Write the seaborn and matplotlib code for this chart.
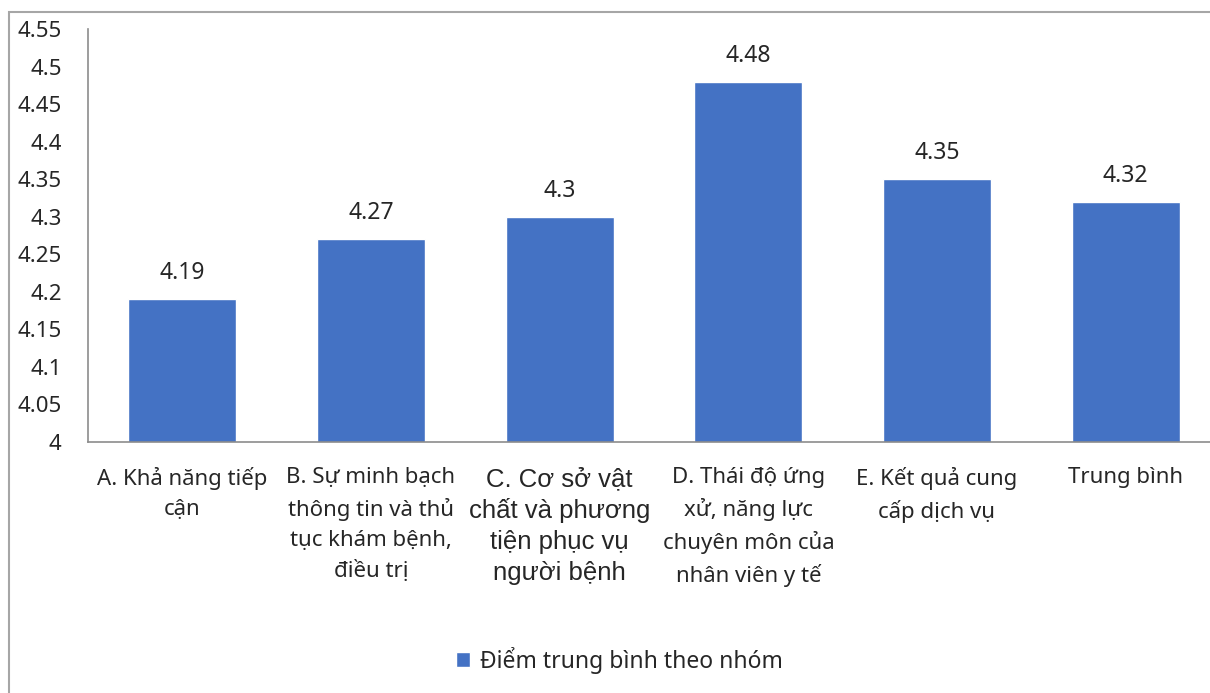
import numpy as np
import pandas as pd
import matplotlib
matplotlib.use("Agg")
import matplotlib.pyplot as plt
import seaborn as sns
from matplotlib.patches import Rectangle

# data
categories = [
    "A. Khả năng tiếp\ncận",
    "B. Sự minh bạch\nthông tin và thủ\ntục khám bệnh,\nđiều trị",
    "C. Cơ sở vật\nchất và phương\ntiện phục vụ\nngười bệnh",
    "D. Thái độ ứng\nxử, năng lực\nchuyên môn của\nnhân viên y tế",
    "E. Kết quả cung\ncấp dịch vụ",
    "Trung bình",
]
scores = [4.19, 4.27, 4.30, 4.48, 4.35, 4.32]
value_labels = ["4.19", "4.27", "4.3", "4.48", "4.35", "4.32"]
series_name = "Điểm trung bình theo nhóm"
yticks = [4.0, 4.05, 4.1, 4.15, 4.2, 4.25, 4.3, 4.35, 4.4, 4.45, 4.5, 4.55]

sns.set_style("white")
plt.rcParams['font.family'] = ['Noto Sans', 'DejaVu Sans']

df = pd.DataFrame({'group': categories, 'score': scores})

W, H = 1210, 693
fig = plt.figure(figsize=(W / 100, H / 100), dpi=100)
ax = fig.add_axes([88 / W, 1 - 441.7 / H, (1220 - 88) / W, 412.7 / H])

sns.barplot(data=df, x='group', y='score', color='#4472C4', width=0.573,
            saturation=1, label=series_name, ax=ax)
handles, labels = ax.get_legend_handles_labels()
if ax.get_legend() is not None:
    ax.get_legend().remove()

ax.set_ylim(4.0, 4.55)
ax.set_yticks(yticks)
ax.set_yticklabels([f"{v:g}" for v in yticks], fontsize=16)
ax.tick_params(axis='y', length=0, pad=19)
ax.tick_params(axis='x', length=0, labelbottom=False)
ax.set_xlabel('')
ax.set_ylabel('')

# category labels (label C is in a larger Arial-like face in the original)
xt = ax.get_xaxis_transform()
for i, name in enumerate(categories):
    if i == 2:
        fam, fs, ls = ['Liberation Sans', 'DejaVu Sans'], 18.5, 1.37
    else:
        fam, fs, ls = ['Noto Sans', 'DejaVu Sans'], 16, 1.55
    ax.text(i, -(467 - 441.7) / 412.7, name, transform=xt, ha='center', va='top',
            multialignment='center', fontsize=fs, family=fam, linespacing=ls)

for i, (v, t) in enumerate(zip(scores, value_labels)):
    ax.annotate(t, (i, v), xytext=(0, 10), textcoords='offset points',
                ha='center', va='bottom', fontsize=16.5)

for side in ['top', 'right']:
    ax.spines[side].set_visible(False)
for side in ['left', 'bottom']:
    ax.spines[side].set_color('#8c8c8c')
    ax.spines[side].set_linewidth(1.2)

fig.legend(handles, labels, loc='center', bbox_to_anchor=(619 / W, 1 - 660 / H),
           frameon=False, fontsize=16.5, handlelength=0.65, handleheight=0.65,
           handletextpad=0.4)

# outer chart frame (clipped at right and bottom)
fig.patches.append(Rectangle((9 / W, -0.1), 1.2, 1.1 - 12 / H, transform=fig.transFigure,
                             fill=False, edgecolor='#a6a6a6', linewidth=1.5))

fig.savefig('out.png', dpi=100)
